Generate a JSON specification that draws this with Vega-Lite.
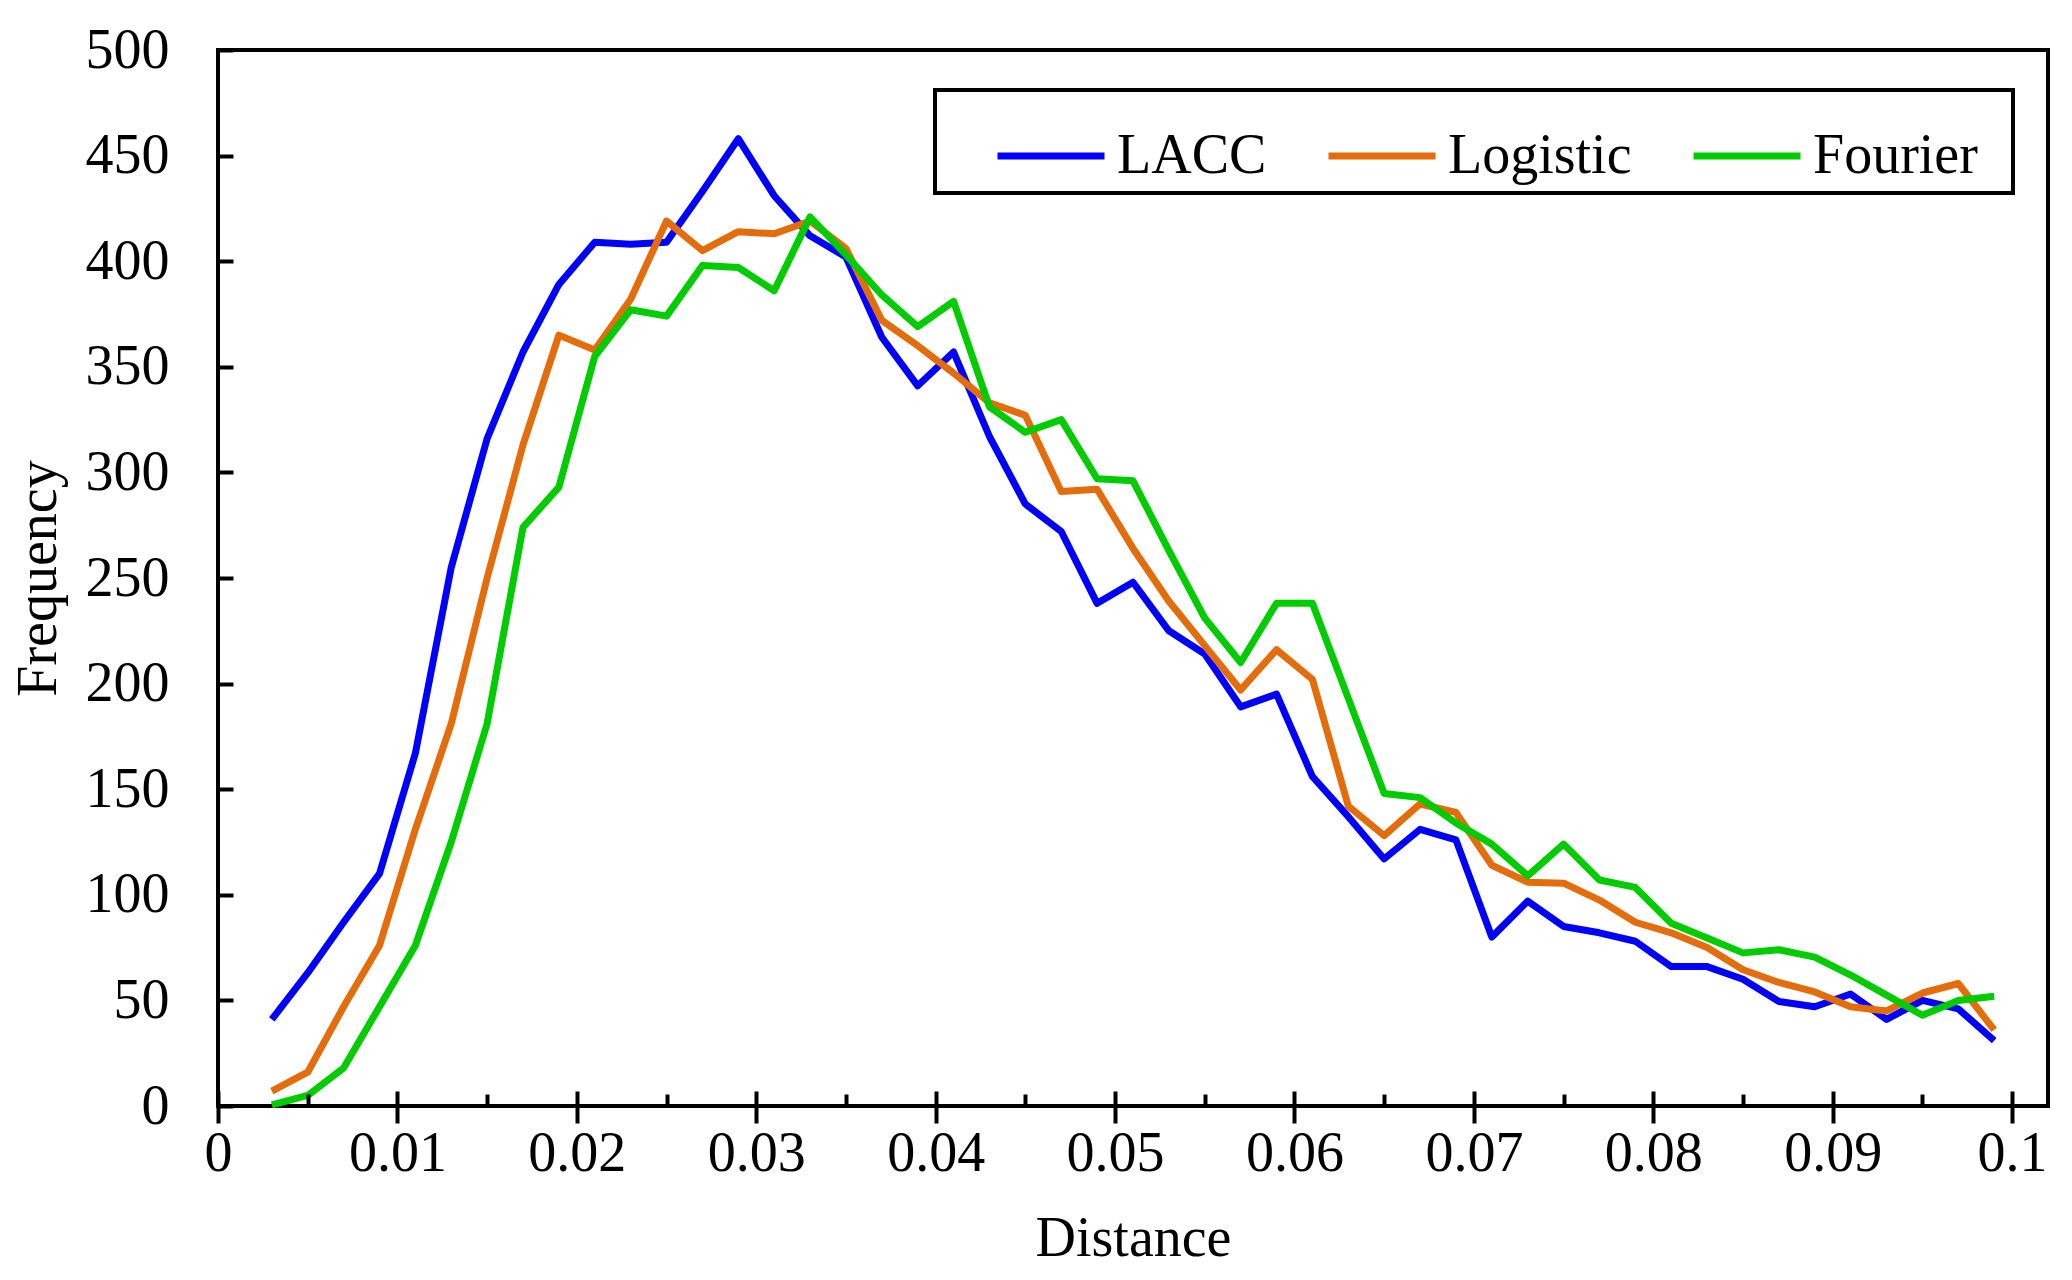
{
  "$schema": "https://vega.github.io/schema/vega-lite/v6.json",
  "width": 1830,
  "height": 1056,
  "autosize": {"type": "none"},
  "padding": {"left": 218, "top": 50, "right": 24, "bottom": 174},
  "background": "white",
  "config": {"view": {"stroke": "black", "strokeWidth": 4}, "font": "Liberation Serif"},
  "datasets": {
    "d": [
      {"d":0.003,"s":"LACC","f":41},{"d":0.003,"s":"Logistic","f":7},{"d":0.003,"s":"Fourier","f":0.5},
      {"d":0.005,"s":"LACC","f":63},{"d":0.005,"s":"Logistic","f":16},{"d":0.005,"s":"Fourier","f":5},
      {"d":0.007,"s":"LACC","f":87},{"d":0.007,"s":"Logistic","f":47},{"d":0.007,"s":"Fourier","f":18},
      {"d":0.009,"s":"LACC","f":110},{"d":0.009,"s":"Logistic","f":76},{"d":0.009,"s":"Fourier","f":47},
      {"d":0.011,"s":"LACC","f":167},{"d":0.011,"s":"Logistic","f":131},{"d":0.011,"s":"Fourier","f":76},
      {"d":0.013,"s":"LACC","f":255},{"d":0.013,"s":"Logistic","f":181},{"d":0.013,"s":"Fourier","f":125},
      {"d":0.015,"s":"LACC","f":316},{"d":0.015,"s":"Logistic","f":250},{"d":0.015,"s":"Fourier","f":181},
      {"d":0.017,"s":"LACC","f":357},{"d":0.017,"s":"Logistic","f":313},{"d":0.017,"s":"Fourier","f":274},
      {"d":0.019,"s":"LACC","f":389},{"d":0.019,"s":"Logistic","f":365},{"d":0.019,"s":"Fourier","f":293},
      {"d":0.021,"s":"LACC","f":409},{"d":0.021,"s":"Logistic","f":358},{"d":0.021,"s":"Fourier","f":355},
      {"d":0.023,"s":"LACC","f":408},{"d":0.023,"s":"Logistic","f":382},{"d":0.023,"s":"Fourier","f":377},
      {"d":0.025,"s":"LACC","f":409},{"d":0.025,"s":"Logistic","f":419},{"d":0.025,"s":"Fourier","f":374},
      {"d":0.027,"s":"LACC","f":433},{"d":0.027,"s":"Logistic","f":405},{"d":0.027,"s":"Fourier","f":398},
      {"d":0.029,"s":"LACC","f":458},{"d":0.029,"s":"Logistic","f":414},{"d":0.029,"s":"Fourier","f":397},
      {"d":0.031,"s":"LACC","f":431},{"d":0.031,"s":"Logistic","f":413},{"d":0.031,"s":"Fourier","f":386},
      {"d":0.033,"s":"LACC","f":412},{"d":0.033,"s":"Logistic","f":419},{"d":0.033,"s":"Fourier","f":421},
      {"d":0.035,"s":"LACC","f":402},{"d":0.035,"s":"Logistic","f":406},{"d":0.035,"s":"Fourier","f":403},
      {"d":0.037,"s":"LACC","f":364},{"d":0.037,"s":"Logistic","f":372},{"d":0.037,"s":"Fourier","f":384},
      {"d":0.039,"s":"LACC","f":341},{"d":0.039,"s":"Logistic","f":360},{"d":0.039,"s":"Fourier","f":369},
      {"d":0.041,"s":"LACC","f":357},{"d":0.041,"s":"Logistic","f":347},{"d":0.041,"s":"Fourier","f":381},
      {"d":0.043,"s":"LACC","f":317},{"d":0.043,"s":"Logistic","f":333},{"d":0.043,"s":"Fourier","f":331},
      {"d":0.045,"s":"LACC","f":285},{"d":0.045,"s":"Logistic","f":327},{"d":0.045,"s":"Fourier","f":319},
      {"d":0.047,"s":"LACC","f":272},{"d":0.047,"s":"Logistic","f":291},{"d":0.047,"s":"Fourier","f":325},
      {"d":0.049,"s":"LACC","f":238},{"d":0.049,"s":"Logistic","f":292},{"d":0.049,"s":"Fourier","f":297},
      {"d":0.051,"s":"LACC","f":248},{"d":0.051,"s":"Logistic","f":264},{"d":0.051,"s":"Fourier","f":296},
      {"d":0.053,"s":"LACC","f":225},{"d":0.053,"s":"Logistic","f":239},{"d":0.053,"s":"Fourier","f":263},
      {"d":0.055,"s":"LACC","f":214},{"d":0.055,"s":"Logistic","f":218},{"d":0.055,"s":"Fourier","f":231},
      {"d":0.057,"s":"LACC","f":189},{"d":0.057,"s":"Logistic","f":197},{"d":0.057,"s":"Fourier","f":210},
      {"d":0.059,"s":"LACC","f":195},{"d":0.059,"s":"Logistic","f":216},{"d":0.059,"s":"Fourier","f":238},
      {"d":0.061,"s":"LACC","f":156},{"d":0.061,"s":"Logistic","f":202},{"d":0.061,"s":"Fourier","f":238},
      {"d":0.063,"s":"LACC","f":137},{"d":0.063,"s":"Logistic","f":142},{"d":0.063,"s":"Fourier","f":193},
      {"d":0.065,"s":"LACC","f":117},{"d":0.065,"s":"Logistic","f":128},{"d":0.065,"s":"Fourier","f":148},
      {"d":0.067,"s":"LACC","f":131},{"d":0.067,"s":"Logistic","f":143},{"d":0.067,"s":"Fourier","f":146},
      {"d":0.069,"s":"LACC","f":126},{"d":0.069,"s":"Logistic","f":139},{"d":0.069,"s":"Fourier","f":134},
      {"d":0.071,"s":"LACC","f":80},{"d":0.071,"s":"Logistic","f":114},{"d":0.071,"s":"Fourier","f":124},
      {"d":0.073,"s":"LACC","f":97},{"d":0.073,"s":"Logistic","f":106},{"d":0.073,"s":"Fourier","f":109},
      {"d":0.075,"s":"LACC","f":85},{"d":0.075,"s":"Logistic","f":105.5},{"d":0.075,"s":"Fourier","f":124},
      {"d":0.077,"s":"LACC","f":82},{"d":0.077,"s":"Logistic","f":97.5},{"d":0.077,"s":"Fourier","f":107},
      {"d":0.079,"s":"LACC","f":78},{"d":0.079,"s":"Logistic","f":87},{"d":0.079,"s":"Fourier","f":103.5},
      {"d":0.081,"s":"LACC","f":66},{"d":0.081,"s":"Logistic","f":82},{"d":0.081,"s":"Fourier","f":86.5},
      {"d":0.083,"s":"LACC","f":66},{"d":0.083,"s":"Logistic","f":75},{"d":0.083,"s":"Fourier","f":79.5},
      {"d":0.085,"s":"LACC","f":60},{"d":0.085,"s":"Logistic","f":64.5},{"d":0.085,"s":"Fourier","f":72.5},
      {"d":0.087,"s":"LACC","f":49.5},{"d":0.087,"s":"Logistic","f":58.5},{"d":0.087,"s":"Fourier","f":74},
      {"d":0.089,"s":"LACC","f":47},{"d":0.089,"s":"Logistic","f":54},{"d":0.089,"s":"Fourier","f":70.5},
      {"d":0.091,"s":"LACC","f":53},{"d":0.091,"s":"Logistic","f":47},{"d":0.091,"s":"Fourier","f":62},
      {"d":0.093,"s":"LACC","f":41},{"d":0.093,"s":"Logistic","f":45},{"d":0.093,"s":"Fourier","f":52.5},
      {"d":0.095,"s":"LACC","f":50},{"d":0.095,"s":"Logistic","f":53.5},{"d":0.095,"s":"Fourier","f":43},
      {"d":0.097,"s":"LACC","f":46},{"d":0.097,"s":"Logistic","f":58},{"d":0.097,"s":"Fourier","f":50},
      {"d":0.099,"s":"LACC","f":31},{"d":0.099,"s":"Logistic","f":36},{"d":0.099,"s":"Fourier","f":52}
    ]
  },
  "data": {"name": "d"},
  "resolve": {"scale": {"x": "independent"}, "axis": {"x": "independent"}},
  "layer": [
    {
      "mark": {"type": "line", "strokeWidth": 7, "strokeJoin": "round"},
      "encoding": {
        "x": {
          "field": "d", "type": "quantitative",
          "scale": {"domain": [0, 0.102], "nice": false, "zero": false},
          "axis": {
            "orient": "bottom",
            "values": [0, 0.01, 0.02, 0.03, 0.04, 0.05, 0.06, 0.07, 0.08, 0.09, 0.1],
            "format": ".2~f",
            "ticks": true, "tickSize": 32, "offset": -15, "domain": false, "grid": false,
            "tickColor": "black", "tickWidth": 4, "tickOpacity": 1, "zindex": 1,
            "labelFontSize": 56, "labelColor": "black", "labelFont": "Liberation Serif",
            "labelPadding": 3, "labelFlush": false, "labelOverlap": false,
            "title": "Distance", "titleFontSize": 56, "titleFontWeight": "normal",
            "titleColor": "black", "titleFont": "Liberation Serif",
            "titleBaseline": "alphabetic", "titleY": 164
          }
        },
        "y": {
          "field": "f", "type": "quantitative",
          "scale": {"domain": [0, 500], "nice": false},
          "axis": {
            "values": [0, 50, 100, 150, 200, 250, 300, 350, 400, 450, 500],
            "format": "d",
            "ticks": true, "tickSize": 15, "offset": -15, "domain": false, "grid": false,
            "tickColor": "black", "tickWidth": 4, "tickOpacity": 1, "zindex": 1,
            "labelFontSize": 56, "labelColor": "black", "labelFont": "Liberation Serif",
            "labelPadding": 49, "labelFlush": false, "labelOverlap": false,
            "title": "Frequency", "titleFontSize": 56, "titleFontWeight": "normal",
            "titleColor": "black", "titleFont": "Liberation Serif",
            "titleBaseline": "alphabetic", "titleAngle": -90, "titleAlign": "center",
            "titleX": -178, "titleY": 528
          }
        },
        "color": {
          "field": "s", "type": "nominal",
          "scale": {"domain": ["LACC", "Logistic", "Fourier"], "range": ["#0000ff", "#e46c0a", "#00cc00"]},
          "legend": {
            "orient": "none", "legendX": 717, "legendY": 40,
            "direction": "horizontal",
            "title": "\u00a0", "titleOrient": "right", "titlePadding": 26,
            "titleFontSize": 56, "titleFont": "Liberation Serif",
            "symbolType": "stroke", "symbolSize": 11449, "symbolStrokeWidth": 7,
            "symbolOffset": 50,
            "labelFontSize": 56, "labelFont": "Liberation Serif", "labelColor": "black",
            "labelOffset": 9, "labelLimit": 0, "columnPadding": 8,
            "strokeColor": "black", "fillColor": "white",
            "padding": 9, "cornerRadius": 0,
            "encode": {"legend": {"update": {"strokeWidth": {"value": 4}}}}
          }
        }
      }
    },
    {
      "mark": {"type": "rule", "opacity": 0},
      "encoding": {
        "x": {
          "field": "d", "type": "quantitative",
          "scale": {"domain": [0, 0.102], "nice": false, "zero": false},
          "axis": {
            "orient": "bottom",
            "values": [0.005, 0.015, 0.025, 0.035, 0.045, 0.055, 0.065, 0.075, 0.085, 0.095],
            "ticks": true, "tickSize": 12, "offset": -12, "domain": false, "grid": false,
            "labels": false, "title": null, "zindex": 1,
            "tickColor": "black", "tickWidth": 4, "tickOpacity": 1
          }
        }
      }
    }
  ]
}
